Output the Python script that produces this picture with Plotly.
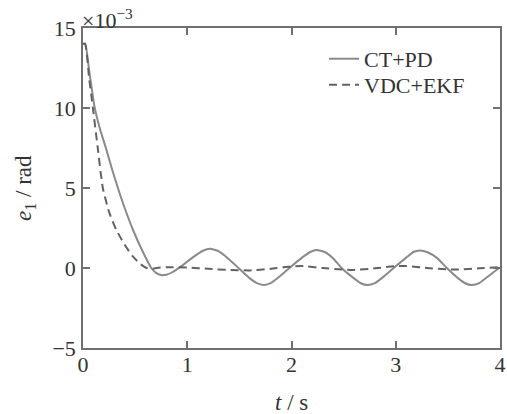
import plotly.graph_objects as go

# CT+PD (solid) error, units 1e-3 rad
t_ctpd = [0, 0.02, 0.06, 0.11, 0.16, 0.216, 0.275, 0.335, 0.4, 0.48, 0.56, 0.655, 0.7, 0.75,
          0.8, 0.86, 0.95, 1.05, 1.15, 1.22, 1.3, 1.4, 1.5, 1.6, 1.68, 1.74, 1.8, 1.9, 1.98, 2.1,
          2.18, 2.24, 2.32, 2.4, 2.48, 2.6, 2.67, 2.73, 2.8, 2.9, 2.98, 3.1, 3.17, 3.23,
          3.3, 3.4, 3.49, 3.6, 3.67, 3.73, 3.8, 3.9, 4.0]
e_ctpd = [14.0, 14.05, 12.3, 10.1, 8.75, 7.58, 6.25, 5.0, 3.75, 2.375, 1.2, 0.0, -0.3, -0.44,
          -0.42, -0.25, 0.15, 0.65, 1.08, 1.2, 1.05, 0.55, -0.05, -0.65, -0.98, -1.06, -0.95, -0.45, 0.0, 0.65,
          1.0, 1.12, 1.0, 0.6, 0.0, -0.65, -0.97, -1.06, -0.95, -0.45, 0.0, 0.65, 1.0, 1.1,
          1.0, 0.6, 0.0, -0.65, -0.97, -1.06, -0.95, -0.45, 0.05]

# VDC+EKF (dashed) error, units 1e-3 rad
t_vdc = [0, 0.02, 0.06, 0.095, 0.14, 0.19, 0.25, 0.32, 0.4, 0.48, 0.55, 0.61, 0.66, 0.72,
         0.8, 1.0, 1.2, 1.4, 1.6, 1.8, 2.0, 2.1, 2.3, 2.5, 2.6, 2.8, 3.0,
         3.1, 3.3, 3.5, 3.6, 3.8, 4.0]
e_vdc = [14.0, 14.0, 11.8, 10.0, 7.58, 5.0, 3.5, 2.375, 1.45, 0.71, 0.25, 0.0, -0.05, 0.02,
         0.05, 0.03, -0.05, -0.12, -0.15, -0.05, 0.1, 0.12, 0.0, -0.1, -0.12,
         -0.02, 0.12, 0.12, 0.0, -0.08, -0.1, -0.02, 0.05]

x_ticks = [0, 1, 2, 3, 4]
y_ticks = [-5, 0, 5, 10, 15]
y_tick_text = ["\u22125", "0", "5", "10", "15"]
series_names = ["CT+PD", "VDC+EKF"]

FONT = "Liberation Serif"
AX = "#707070"
TXT = "#333333"

fig = go.Figure()
fig.add_trace(go.Scatter(x=t_ctpd, y=e_ctpd, mode="lines", name=series_names[0], legend="legend",
                         line=dict(color="#8a8a8a", width=2, shape="spline", smoothing=0.5)))
fig.add_trace(go.Scatter(x=t_vdc, y=e_vdc, mode="lines", name=series_names[1], legend="legend2",
                         line=dict(color="#626262", width=2, dash="8px,5px", shape="spline", smoothing=0.5)))

axis_common = dict(showgrid=False, zeroline=False, showline=True, linecolor=AX, linewidth=1.5,
                   mirror="allticks", ticks="inside", ticklen=7, tickcolor=AX, tickwidth=1.5,
                   automargin=False,
                   tickfont=dict(family=FONT, size=22, color=TXT))

legend_common = dict(xanchor="left", yanchor="top", bgcolor="rgba(0,0,0,0)",
                     font=dict(family=FONT, size=22, color=TXT), itemwidth=30)

fig.update_layout(
    width=507, height=414,
    margin=dict(l=83, r=7, t=28, b=66),
    paper_bgcolor="white", plot_bgcolor="white",
    font=dict(family=FONT, color=TXT),
    showlegend=True,
    legend=dict(x=0.578, y=0.969, **legend_common),
    legend2=dict(x=0.578, y=0.8875, **legend_common),
    xaxis=dict(range=[0, 4], tickvals=x_ticks, ticktext=[str(v) for v in x_ticks],
               ticklabelstandoff=-4, **axis_common),
    yaxis=dict(range=[-5, 15], tickvals=y_ticks, ticktext=y_tick_text,
               ticklabelstandoff=1, **axis_common),
)

# axis titles
fig.add_annotation(xref="paper", yref="paper", x=0.5, y=0, yanchor="top", yshift=-40,
                   text="<i>t</i> / s", showarrow=False,
                   font=dict(family=FONT, size=23, color=TXT))
fig.add_annotation(xref="paper", yref="paper", x=0, y=0.5, xanchor="center", xshift=-58,
                   text="<i>e</i><sub>1</sub> / rad", showarrow=False, textangle=-90,
                   font=dict(family=FONT, size=23, color=TXT))
# exponent label
fig.add_annotation(xref="paper", yref="paper", x=0.0, y=1.0, xanchor="left", yanchor="bottom",
                   text="\u00d710<sup>\u22123</sup>", showarrow=False, yshift=-7, xshift=-3,
                   font=dict(family=FONT, size=22, color=TXT))

fig.write_html("out.html", config={"displayModeBar": False},
               post_script="document.body.style.margin='0';document.body.style.overflow='hidden';")
